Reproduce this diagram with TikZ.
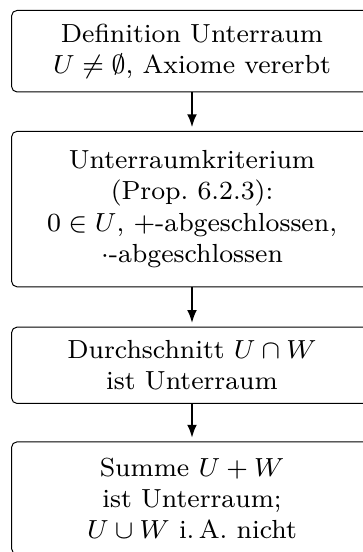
\documentclass[tikz,border=0pt]{standalone}
\usetikzlibrary{arrows.meta}
\begin{document}
\begin{tikzpicture}[x=0.3058pt,y=-0.3058pt,
  stepbox/.style={draw=black,line width=0.3pt,rounded corners=1.6pt,align=center,
    minimum width=110.3pt,inner sep=0pt,font=\footnotesize},
  conn/.style={line width=0.6pt,-{Latex[length=4pt,width=3pt]},shorten >=1.1pt}]
\useasboundingbox (0,0) rectangle (362,552);
\node[stepbox,minimum height=24.9pt] (b1) at (192,51.2) {Definition Unterraum\\$U\neq\emptyset$, Axiome vererbt};
\node[stepbox,minimum height=47.5pt] (b2) at (192,209.1) {Unterraumkriterium\\(Prop.~6.2.3):\\$0\in U$, $+$-abgeschlossen,\\$\cdot$-abgeschlossen};
\node[stepbox,minimum height=23.3pt] (b3) at (192,365.3) {Durchschnitt $U\cap W$\\ist Unterraum};
\node[stepbox,minimum height=34.3pt] (b4) at (192,498) {Summe $U+W$\\ist Unterraum;\\$U\cup W$ i.\,A. nicht};
\draw[conn] (b1) -- (b2);
\draw[conn] (b2) -- (b3);
\draw[conn] (b3) -- (b4);
\end{tikzpicture}
\end{document}
